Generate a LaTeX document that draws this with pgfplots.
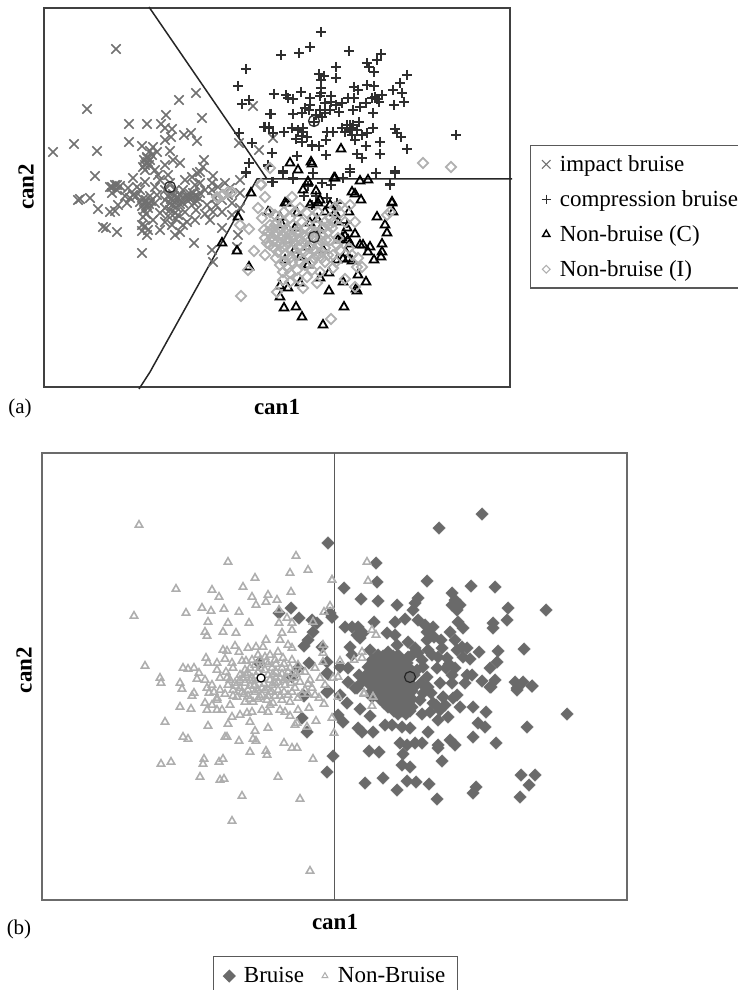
\documentclass[border=0pt]{standalone}
\usepackage{pgfplots}
\pgfplotsset{compat=1.18}
\usepackage{fontspec}
\setmainfont{Liberation Serif}
\definecolor{xg}{HTML}{707070}
\definecolor{pk}{HTML}{2E2E2E}
\definecolor{dl}{HTML}{B0B0B0}
\definecolor{bd}{HTML}{6A6A6A}
\definecolor{tl}{HTML}{AEAEAE}
\begin{document}
\begin{tikzpicture}[x=1pt,y=1pt]
\useasboundingbox (0,0) rectangle (737,990);
\begin{axis}[at={(44pt,603pt)},anchor=south west,scale only axis,width=466pt,height=379pt,
 xmin=44,xmax=510,ymin=8,ymax=387,y dir=reverse,ticks=none,clip=false,
 axis line style={color=black!75,line width=1.4pt},
 legend cell align=left,
 legend style={at={(axis cs:530,145)},anchor=north west,draw=black!65,line width=1.3pt,font=\fontsize{23}{23}\selectfont,
   row sep=13.5pt,inner xsep=11pt,inner ysep=8pt,text depth=.1em},
]
\addplot[only marks,mark=x,mark size=6.6pt,color=xg,line width=1.6pt,legend image post style={mark size=6pt,line width=1.1pt}] coordinates {
(116,49)(87,109)(53,152)(74,144)(97,151)(95,176)(129,124)(147,124)(161,124)(166,115)(179,100)(196,93)(202,118)(129,142)(172,129)(165,128)(184,135)(191,133)(197,141)(165,140)(171,137)(170,151)(142,146)(153,147)(157,152)(150,151)(147,157)(146,163)(143,167)(150,160)(145,165)(148,162)(152,155)(180,163)(173,160)(165,165)(155,170)(204,160)(203,167)(197,173)(192,177)(200,172)(213,176)(133,178)(145,182)(155,187)(168,175)(115,185)(110,187)(117,190)(253,106)(239,143)(259,150)(273,138)
(78,200)(80,199)(90,198)(98,209)(115,211)(110,212)(103,227)(106,228)(117,232)(142,253)(147,235)(194,243)(212,250)(213,262)(237,247)(142,225)(143,217)(147,205)(144,210)(149,204)(146,200)(140,202)(175,202)(178,199)(172,205)(176,207)(180,204)(171,199)(174,196)(192,198)(195,196)(188,201)(197,201)(193,193)(186,196)(165,222)(180,232)(187,222)(210,220)(222,228)(232,203)(232,215)(213,212)(240,193)(133,195)(127,203)(130,198)(112,187)(112,193)(120,186)(117,185)(160,180)(170,183)(185,180)(200,183)(205,190)(212,190)(218,187)(225,183)(215,198)(207,205)(216,205)(222,212)(205,214)(196,210)(185,212)(175,213)(160,213)(165,208)(155,203)(157,195)(165,190)(183,190)(160,230)(172,225)(175,235)(183,225)(140,190)(137,187)(128,188)(150,196)(153,220)(142,231)(145,226)(148,230)(168,216)(176,219)(195,220)(228,195)(230,188)(222,200)(240,208)(212,183)(238,235)(240,180)(195,185)(125,196)(136,196)(118,205)(175,190)(180,195)(165,200)(170,210)(178,215)(158,175)(145,170)
(173,194)(177,197)(180,200)(183,203)(170,203)(168,196)(190,194)(189,198)(194,203)(198,197)(200,193)(142,206)(145,203)(148,208)(151,201)(143,199)(146,214)(147,158)(144,160)(149,165)
};
\addlegendentry{\hspace{7pt}impact bruise}
\addplot[only marks,mark=+,mark size=5.2pt,color=pk,line width=1.6pt,legend image post style={mark size=4.6pt,line width=1.2pt}] coordinates {
(321,32)(281,55)(299,53)(310,47)(349,51)(381,54)(377,60)(367,63)(369,67)(374,72)(407,75)(336,67)(336,78)(319,74)(324,76)(321,80)(321,88)(321,93)(400,83)(393,90)(402,93)(404,102)(394,105)(374,86)(367,85)(354,87)(358,90)(354,98)(348,98)(375,97)(382,95)(379,102)(377,99)(372,98)(274,94)(286,95)(288,98)(293,99)(301,92)(310,98)(320,96)(331,96)(331,102)(310,105)(325,103)(336,105)(342,103)(320,110)(325,113)(330,110)(339,112)(353,110)(360,107)(366,103)(373,113)(271,114)(293,114)(302,113)(314,122)(265,127)(269,127)(273,133)(284,132)(292,128)(303,132)(327,132)(333,132)(342,128)(347,125)(350,125)(353,125)(351,128)(347,128)(359,122)(373,128)(367,133)(362,135)(352,135)(355,140)(326,140)(395,129)(397,133)(401,137)(407,149)(380,142)(366,146)(380,154)(357,154)(362,158)(326,155)(319,146)(312,146)(296,139)(302,136)(302,142)(307,137)(272,153)(297,156)(456,135)(395,171)(376,173)(350,169)(283,171)(268,166)(273,182)(293,179)(313,173)(343,178)(390,185)(322,183)
(246,69)(238,86)(274,94)(249,100)(242,104)(270,114)(264,127)(269,128)(239,133)(252,143)(272,153)(249,163)(246,172)(273,182)(268,165)(246,173)(283,173)(272,182)(293,178)(322,183)(331,185)(343,178)(350,172)(376,173)(395,173)(390,184)(318,203)(337,203)(327,198)(347,223)(305,108)(309,110)(316,115)(322,117)(312,145)(303,128)(298,130)(350,130)(345,132)(357,130)(308,186)(316,196)(304,196)(312,205)
};
\addlegendentry{\hspace{7pt}compression bruise}
\addplot[only marks,mark=triangle,mark size=5pt,color=black,line width=1.8pt,legend image post style={mark size=4.2pt,line width=1.4pt}] coordinates {
(341,149)(290,163)(311,162)(312,164)(298,170)(308,182)(334,178)(360,181)(368,180)(251,193)(308,182)(335,178)(303,190)(316,191)(352,192)(355,194)(361,200)(392,202)(392,203)(393,212)(377,217)(385,225)(387,233)(382,244)(382,252)(381,257)(374,260)(370,247)(368,252)(360,245)(363,245)(355,234)(348,240)(342,238)(338,240)(346,253)(343,259)(348,259)(352,261)(337,260)(347,228)(349,212)(268,212)(285,203)(287,203)(318,203)(320,200)(238,217)(222,243)(237,251)(249,267)(317,219)(358,275)(329,273)(320,278)(300,283)(280,286)(288,288)(280,297)(329,291)(343,282)(366,282)(356,289)(357,291)(284,308)(296,307)(302,317)(344,307)(323,325)
(282,225)(297,213)(335,213)(307,247)(285,260)(308,265)(323,250)(295,228)(325,212)(338,222)(288,240)(300,257)(280,217)(310,223)(320,230)(345,236)(350,244)(330,205)(295,250)(310,205)
};
\addlegendentry{\hspace{7pt}Non-bruise (C)}
\addplot[only marks,mark=square,mark size=3.6pt,color=dl,line width=1.7pt,mark options={rotate=45},legend image post style={mark size=2.8pt,line width=1.1pt}] coordinates {
(261,184)(265,197)(241,296)(248,270)(331,319)(254,251)(265,255)(249,229)(240,225)(258,208)(262,218)(270,225)(272,237)(277,242)(270,245)(280,238)(275,235)(265,238)(267,243)(228,192)(222,195)(217,197)(270,168)(423,163)(451,167)(261,185)(232,192)(223,195)(218,198)
(355,287)(362,267)(357,267)(345,279)(303,288)(317,283)(277,292)(283,272)(290,273)(297,270)(307,277)(333,268)(292,197)(307,213)(335,207)(340,205)(387,215)(390,212)(358,258)(340,250)(337,245)
(275,225)(283,222)(285,232)(290,218)(295,212)(302,222)(300,232)(293,238)(285,245)(278,252)(285,255)(292,250)(300,245)(308,238)(305,228)(312,218)(318,212)(325,222)(320,240)(315,232)(328,232)(330,240)(325,248)(318,255)(308,255)(300,262)(292,262)(280,265)(288,268)(305,265)(312,262)(325,262)(333,255)(338,238)(345,222)(340,213)(330,218)(282,248)(276,258)(274,248)(280,230)(293,225)(310,248)(332,228)(349,248)(352,255)(300,208)(290,208)(284,212)(275,215)(270,212)(350,205)(355,222)(320,272)(312,270)(298,278)(290,282)(283,280)(322,258)(336,262)(300,240)(288,230)(277,222)
(272,230)(276,232)(279,228)(283,236)(287,238)(290,234)(295,243)(299,248)(304,252)(311,244)(314,238)(318,245)(322,235)(326,240)(324,228)(329,225)(333,222)(316,225)(310,232)(304,236)(296,232)(289,242)(281,243)(273,241)(315,250)(322,252)(328,255)(314,258)(298,255)(291,257)(284,262)(268,232)(264,230)
};
\addlegendentry{\hspace{7pt}Non-bruise (I)}
\addplot[black!85,line width=1.5pt,forget plot] coordinates {(149,7)(267,179)};
\addplot[black!85,line width=1.5pt,forget plot] coordinates {(512,179)(257,179)(150,372)(139,389)};
\addplot[only marks,mark=o,mark size=5.5pt,color=pk,line width=1.3pt,forget plot] coordinates {(170,187)(314,121)(314,237)};
\node[font=\fontsize{23}{23}\selectfont\bfseries] at (axis cs:277,407) {can1};
\node[font=\fontsize{23}{23}\selectfont\bfseries,rotate=90] at (axis cs:26,187) {can2};
\node[font=\fontsize{21}{21}\selectfont] at (axis cs:20,408) {(a)};
\end{axis}
\begin{axis}[at={(42pt,90pt)},anchor=south west,scale only axis,width=585pt,height=447pt,
 xmin=42,xmax=627,ymin=453,ymax=900,y dir=reverse,ticks=none,clip=false,
 axis line style={color=black!58,line width=1.8pt},
 legend columns=2,
 legend style={at={(axis cs:213,956)},anchor=north west,draw=black!65,line width=1.3pt,font=\fontsize{23}{23}\selectfont,
   inner xsep=10pt,inner ysep=9pt,text depth=.1em,/tikz/column 2/.style={column sep=16pt}},
]
\addplot[only marks,mark=square*,mark size=4.4pt,color=bd,mark options={rotate=45},legend image post style={mark size=4pt}] coordinates {
(482,514)(439,528)(328,543)(376,563)(377,582)(427,581)(471,586)(495,587)(344,588)(361,599)(378,601)(397,605)(418,598)(415,603)(413,610)(452,593)(455,600)(452,605)(460,605)(457,610)(508,608)(546,610)(507,620)(493,623)(493,628)(332,617)(405,619)(374,622)(395,622)(418,620)(425,625)(433,627)(458,622)(463,628)(345,627)(352,627)(358,627)(363,633)(357,635)(360,638)(387,633)(395,635)(397,645)(427,632)(427,640)(450,632)(455,640)(462,647)(408,642)(415,648)(418,653)(408,657)(467,648)(442,648)(438,657)(447,658)(463,657)(470,659)(479,652)(498,651)(524,649)(350,647)(352,655)(370,650)(497,662)(490,668)(455,668)(452,675)(440,683)(452,683)(467,675)(472,675)(465,683)(482,681)(495,680)(491,687)(515,682)(523,682)(517,690)(532,686)(328,674)(348,682)(340,667)(348,668)(359,675)(362,682)(355,688)(328,691)(340,695)
(304,696)(327,692)(347,703)(338,715)(343,722)(302,718)(307,732)(333,756)(327,772)(360,709)(370,716)(358,728)(362,732)(373,732)(385,725)(392,725)(402,727)(410,728)(422,714)(400,743)(407,745)(403,754)(415,743)(422,743)(428,732)(438,745)(438,748)(450,740)(455,745)(473,737)(496,743)(473,707)(486,712)(478,723)(485,727)(527,727)(567,714)(532,686)(517,688)(460,707)(438,720)(448,717)(440,710)(433,703)(420,700)(453,698)(443,697)(490,687)(369,751)(379,752)(402,765)(410,767)(442,761)(383,778)(365,783)(407,781)(416,782)(429,784)(397,790)(476,787)(473,793)(437,799)(521,775)(535,775)(529,785)(520,797)(357,688)
(291,608)(299,618)(312,620)(317,623)(313,632)(308,640)(304,646)(259,663)(309,663)(298,668)(327,662)(327,673)(292,677)(327,692)(303,695)(322,647)(279,613)(330,613)(332,617)
(427,677)(423,667)(428,687)(423,693)(417,670)(443,697)(457,695)
(388,652)(378,655)(398,655)(372,660)(382,660)(392,660)(402,660)(368,667)(376,667)(384,667)(392,667)(400,667)(408,667)(366,675)(374,675)(382,675)(390,675)(398,675)(406,675)(414,675)(368,683)(376,683)(384,683)(392,683)(400,683)(408,683)(372,691)(380,691)(388,691)(396,691)(404,691)(412,691)(380,699)(388,699)(396,699)(404,699)(412,699)(388,707)(396,707)(404,707)(412,707)(398,714)(406,714)(372,697)
(383,656)(393,656)(377,663)(387,663)(397,663)(407,663)(372,671)(380,671)(388,671)(396,671)(404,671)(412,671)(370,679)(378,679)(386,679)(394,679)(402,679)(410,679)(374,687)(382,687)(390,687)(398,687)(406,687)(414,687)(376,695)(384,695)(392,695)(400,695)(408,695)(384,703)(392,703)(400,703)(408,703)(394,711)(402,711)(410,711)
(421,683)(431,693)(436,705)(430,712)(445,705)(437,668)(446,668)(432,655)(412,655)(422,660)(428,650)(434,637)(441,640)(449,664)(457,650)
};
\addlegendentry{\hspace{7pt}Bruise}
\addplot[only marks,mark=triangle,mark size=4.3pt,color=tl,line width=1.6pt,legend image post style={mark size=3.4pt,line width=1pt}] coordinates {
(139,525)(228,562)(296,556)(290,573)(308,570)(332,580)(255,578)(176,589)(212,590)(243,587)(219,597)(252,597)(268,595)(291,592)(277,600)(266,602)(256,605)(134,616)(186,613)(202,608)(211,611)(224,609)(239,612)(279,610)(208,622)(228,623)(249,623)(205,632)(207,636)(223,632)(236,633)(292,630)(282,633)(279,623)(287,618)(292,623)(313,622)(235,646)(280,640)(266,640)(288,645)(223,650)(227,651)(239,652)(248,648)(256,647)(263,647)(278,652)(292,648)(206,658)(208,663)(225,659)(217,663)(232,663)(242,661)(246,661)(145,666)(160,678)(161,683)(183,668)(188,669)(194,668)(199,673)(217,670)(226,672)(233,668)(197,679)(205,680)(212,685)(220,678)(227,678)(235,683)(180,683)(182,689)(194,693)(192,696)(207,688)(209,693)(225,694)(233,696)(217,698)
(180,707)(191,709)(165,722)(208,726)(228,724)(205,703)(207,710)(217,710)(222,710)(230,705)(232,717)(240,715)(247,713)(252,712)(250,722)(255,731)(268,728)(285,712)(290,716)(298,710)(309,708)(297,723)(295,725)(316,721)(307,727)(324,704)(319,698)(315,695)(308,694)(332,718)(334,733)(338,697)(364,694)(373,697)(372,706)
(183,737)(188,739)(225,737)(227,737)(239,741)(253,739)(256,741)(284,743)(292,748)(297,748)(250,752)(266,751)(267,755)(313,759)(161,764)(171,762)(204,759)(203,764)(219,762)(223,759)(200,777)(220,780)(224,779)(278,777)(242,796)(300,799)(232,821)(310,871)
(267,700)(260,697)(270,705)(273,703)(280,710)(268,712)(262,710)(245,702)(253,702)(237,697)(217,700)(212,705)
(367,562)(368,581)(332,580)(330,606)(324,612)(372,630)(376,635)(362,652)(354,660)(362,658)(340,661)(323,645)(323,653)(323,662)(333,678)(338,677)(364,693)(373,697)
(240,675)(245,670)(250,668)(255,665)(260,660)(265,657)(270,655)(275,660)(272,668)(265,670)(258,672)(252,678)(245,683)(240,688)(248,690)(255,685)(262,688)(270,680)(276,672)(282,668)(280,678)(288,672)(285,685)(278,690)(270,692)(262,695)(255,692)(248,696)(242,692)(292,660)(298,665)(305,672)(310,680)(315,668)(320,678)(325,685)(300,682)(295,688)(305,690)(288,695)(282,700)(290,702)(298,698)(258,655)(266,662)(275,683)(240,680)(252,660)(283,658)(233,690)(228,685)
(246,675)(250,680)(254,686)(258,680)(244,694)(250,699)(258,699)(265,690)(272,685)(276,678)(282,674)(287,678)(291,683)(268,675)(262,678)(268,696)(275,696)(284,692)(230,680)(236,686)(220,690)(214,692)
(243,678)(248,673)(256,676)(260,668)(268,664)(273,674)(278,682)(284,680)(294,678)(300,672)(308,684)(312,688)(302,694)(292,692)(280,696)(272,692)(264,684)(258,690)(250,686)(276,664)(284,664)(290,668)(296,674)
};
\addlegendentry{\hspace{8pt}Non-Bruise}
\addplot[black!65,line width=1.5pt,forget plot] coordinates {(334.5,453)(334.5,900)};
\addplot[only marks,mark=*,mark size=4pt,color=black,fill=white,line width=1.2pt,forget plot] coordinates {(261,678)};
\addplot[only marks,mark=*,mark size=5.5pt,color=black!85,fill=bd,line width=1.2pt,forget plot] coordinates {(410,677)};
\node[font=\fontsize{23}{23}\selectfont\bfseries] at (axis cs:335,922) {can1};
\node[font=\fontsize{23}{23}\selectfont\bfseries,rotate=90] at (axis cs:24,670) {can2};
\node[font=\fontsize{21}{21}\selectfont] at (axis cs:19,929) {(b)};
\end{axis}
\end{tikzpicture}
\end{document}
